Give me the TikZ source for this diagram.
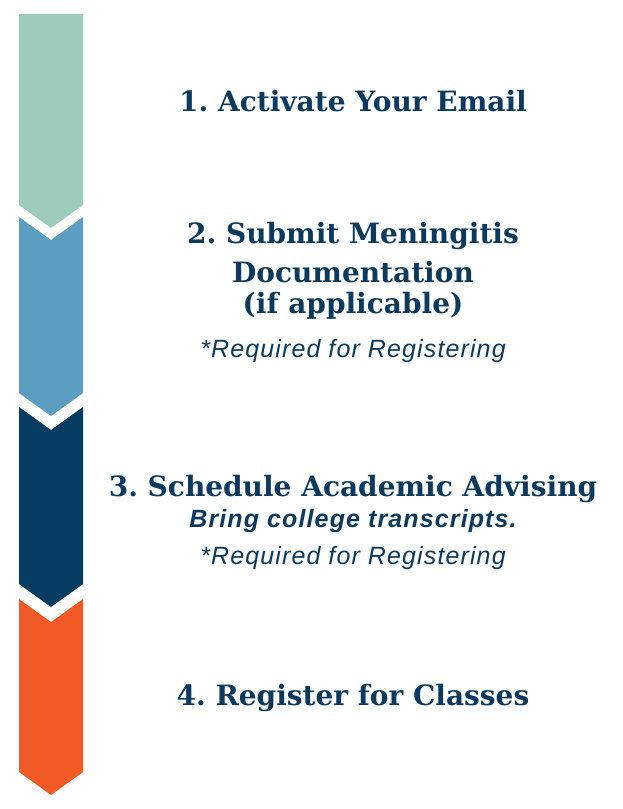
\documentclass[tikz,border=0pt]{standalone}
\usepackage{fontspec}
\setmainfont{DejaVu Serif}
\newfontfamily\notefont[LetterSpace=4.5]{Liberation Sans}
\definecolor{stepgreen}{HTML}{9DCBBC}
\definecolor{stepblue}{HTML}{5B9EC2}
\definecolor{stepnavy}{HTML}{063B62}
\definecolor{steporange}{HTML}{F15A25}
\definecolor{textnavy}{HTML}{0C3A5E}
\frenchspacing
\tikzset{
  title/.style={anchor=base, text=textnavy, font=\fontsize{28}{33}\selectfont\bfseries, align=center, inner sep=0pt},
  note/.style={anchor=base, text=textnavy, font=\notefont\fontsize{25}{29}\selectfont\itshape, inner sep=0pt},
  hint/.style={anchor=base, text=textnavy, font=\notefont\fontsize{25}{29}\selectfont\bfseries\itshape, inner sep=0pt}
}
\begin{document}
\begin{tikzpicture}[x=1pt,y=-1pt]
        \useasboundingbox (0,0) rectangle (622,809);
        \fill[stepgreen] (19,14) -- (83,14) -- (83,205) -- (51,228) -- (19,205) -- cycle;
        \foreach \top/\bot/\col in {217/393/stepblue, 407/584/stepnavy, 599/772/steporange}
          \fill[\col] (19,\top) -- (51,\top+23) -- (83,\top) -- (83,\bot) -- (51,\bot+23) -- (19,\bot) -- cycle;

        \node (email) [title] at (353,111) {1. Activate Your Email};
        \node (menin) [title] at (353,243) {2. Submit Meningitis};
        \node (docu) [title] at (353,282) {Documentation};
        \node (applic) [title] at (353,313) {(if applicable)};
        \node (reqa) [note] at (353,357) {*Required for Registering};
        \node (advise) [title] at (353,496) {3. Schedule Academic Advising};
        \node (bring) [hint] at (353,527) {Bring college transcripts.};
        \node (reqb) [note] at (353,564) {*Required for Registering};
        \node (register) [title] at (353,705) {4. Register for Classes};
    \end{tikzpicture}
\end{document}
